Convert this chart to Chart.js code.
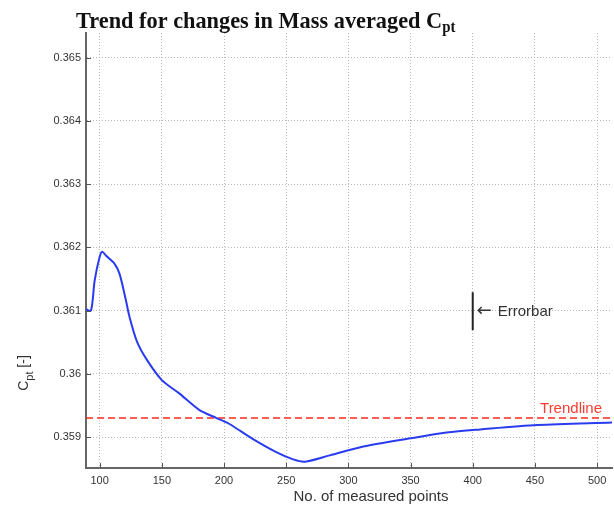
<!DOCTYPE html>
<html>
<head>
<meta charset="utf-8">
<script src="https://cdn.jsdelivr.net/npm/chart.js@4.4.0/dist/chart.umd.min.js"></script>
<style>
  html, body { margin: 0; padding: 0; background: #fff; }
  #wrap { width: 614px; height: 508px; }
</style>
</head>
<body>
<div id="wrap"><canvas id="c" width="614" height="508"></canvas></div>
<script>
// Values
const pointsX = [89, 93, 96, 100, 102, 105, 112, 116, 121, 124, 130, 138, 150, 164, 180, 194, 204, 223, 242, 255, 265, 285, 312, 350, 379, 406, 452, 512];
const cptValues = [0.36102, 0.36100, 0.36148, 0.36185, 0.36193, 0.36187, 0.36174, 0.36158, 0.36117, 0.36090, 0.36051, 0.36022, 0.35990, 0.35969, 0.35943, 0.35930, 0.35921, 0.35897, 0.35876, 0.35865, 0.35861, 0.35871, 0.35885, 0.35898, 0.35907, 0.35912, 0.35919, 0.35923];
const trendValue = 0.3593;
const errorbarX = 400;
const errorbarLow = 0.36069;
const errorbarHigh = 0.36129;
const xTicks = [100, 150, 200, 250, 300, 350, 400, 450, 500];
const yTicks = [0.359, 0.36, 0.361, 0.362, 0.363, 0.364, 0.365];
const xMin = 89, xMax = 512;
const yMin = 0.35851, yMax = 0.36539;

const sans = '"Liberation Sans", Arial, sans-serif';
const serif = '"Liberation Serif", "Times New Roman", serif';

// title, labels, errorbar and inner tick marks
const extras = {
  id: 'extras',
  afterDraw(chart) {
    const ctx = chart.ctx;
    const xs = chart.scales.x, ys = chart.scales.y;
    const area = chart.chartArea;
    ctx.save();

    // inner tick marks like matlab
    ctx.strokeStyle = '#555';
    ctx.lineWidth = 1;
    xTicks.forEach(v => {
      const px = Math.round(xs.getPixelForValue(v)) + 0.5;
      ctx.beginPath(); ctx.moveTo(px, area.bottom); ctx.lineTo(px, area.bottom - 5); ctx.stroke();
    });
    yTicks.forEach(v => {
      const py = Math.round(ys.getPixelForValue(v)) + 0.5;
      ctx.beginPath(); ctx.moveTo(area.left, py); ctx.lineTo(area.left + 5, py); ctx.stroke();
    });

    // errorbar
    const ex = xs.getPixelForValue(errorbarX);
    const ey = ys.getPixelForValue((errorbarLow + errorbarHigh) / 2);
    ctx.strokeStyle = '#222';
    ctx.lineWidth = 2;
    ctx.beginPath();
    ctx.moveTo(ex, ys.getPixelForValue(errorbarLow));
    ctx.lineTo(ex, ys.getPixelForValue(errorbarHigh));
    ctx.stroke();
    ctx.fillStyle = '#333';
    ctx.textBaseline = 'middle';
    ctx.textAlign = 'left';
    ctx.font = '18px "DejaVu Sans", sans-serif';
    ctx.fillText('\u2190', ex + 4, ey);
    ctx.font = '15px ' + sans;
    ctx.fillText('Errorbar', ex + 25, ey + 1);

    // trendline label
    ctx.fillStyle = '#ff3b30';
    ctx.textAlign = 'right';
    ctx.textBaseline = 'alphabetic';
    ctx.font = '15px ' + sans;
    ctx.fillText('Trendline', area.right - 10, ys.getPixelForValue(trendValue) - 5);

    // x axis title
    ctx.fillStyle = '#333';
    ctx.textAlign = 'center';
    ctx.font = '15px ' + sans;
    ctx.fillText('No. of measured points', 371, 501);

    // title with subscript
    ctx.save();
    ctx.fillStyle = '#111';
    ctx.textAlign = 'left';
    ctx.translate(76, 28);
    ctx.scale(0.93, 1);
    ctx.font = 'bold 24px ' + serif;
    const main = 'Trend for changes in Mass averaged C';
    ctx.fillText(main, 0, 0);
    const w = ctx.measureText(main).width;
    ctx.font = 'bold 16px ' + serif;
    ctx.fillText('pt', w, 4);
    ctx.restore();

    // y axis title, rotated, with subscript
    ctx.translate(28, 373);
    ctx.rotate(-Math.PI / 2);
    ctx.fillStyle = '#333';
    ctx.textAlign = 'left';
    ctx.font = '14px ' + sans;
    const cw = ctx.measureText('C').width;
    const bw = ctx.measureText(' [-]').width;
    ctx.font = '11px ' + sans;
    const pw = ctx.measureText('pt').width;
    const start = -(cw + pw + bw) / 2;
    ctx.fillText('pt', start + cw, 5);
    ctx.font = '14px ' + sans;
    ctx.fillText('C', start, 0);
    ctx.fillText(' [-]', start + cw + pw, 0);

    ctx.restore();
  }
};

new Chart(document.getElementById('c'), {
  type: 'line',
  data: {
    datasets: [
      {
        label: 'Cpt',
        data: pointsX.map((x, i) => ({ x: x, y: cptValues[i] })),
        borderColor: '#2a3cf0',
        borderWidth: 2,
        pointRadius: 0,
        tension: 0.3,
        fill: false
      },
      {
        label: 'Trendline',
        data: [{ x: xMin, y: trendValue }, { x: xMax, y: trendValue }],
        borderColor: '#ff2a1a',
        borderWidth: 1.5,
        borderDash: [7, 4],
        pointRadius: 0,
        fill: false
      }
    ]
  },
  options: {
    responsive: false,
    animation: false,
    layout: { padding: { top: 33, right: 2, left: 0, bottom: 0 } },
    plugins: {
      legend: { display: false },
      title: { display: false },
      tooltip: { enabled: false }
    },
    scales: {
      x: {
        type: 'linear',
        min: xMin,
        max: xMax,
        afterBuildTicks: s => { s.ticks = xTicks.map(v => ({ value: v })); },
        afterFit: s => { s.height = 40; },
        grid: { color: '#b8b8b8', drawTicks: false },
        border: { display: true, color: '#666', width: 2, dash: [1, 2] },
        ticks: { color: '#333', font: { family: sans, size: 11 }, padding: 6, maxRotation: 0 }
      },
      y: {
        type: 'linear',
        min: yMin,
        max: yMax,
        afterBuildTicks: s => { s.ticks = yTicks.map(v => ({ value: v })); },
        afterFit: s => { s.width = 86; },
        grid: { color: '#b8b8b8', drawTicks: false },
        border: { display: true, color: '#666', width: 2, dash: [1, 2] },
        ticks: {
          color: '#333',
          font: { family: sans, size: 11 },
          padding: 5,
          callback: v => String(parseFloat(v.toFixed(3)))
        }
      }
    }
  },
  plugins: [extras]
});
</script>
</body>
</html>
